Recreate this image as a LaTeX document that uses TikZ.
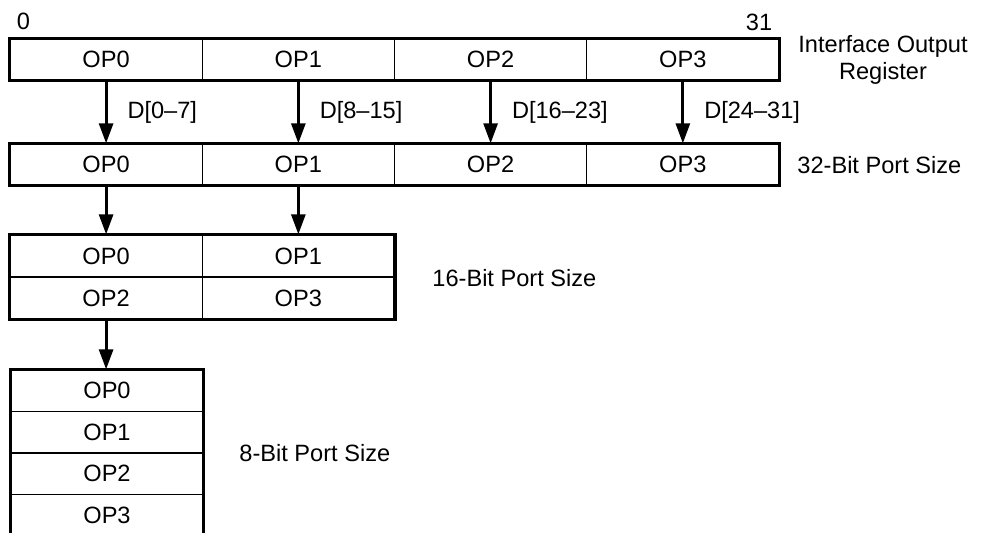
\documentclass[tikz,border=0pt]{standalone}
\usepackage{fontspec}
\setmainfont{Liberation Sans}
\usetikzlibrary{arrows.meta,positioning,fit}
\newcommand{\regfont}{\fontsize{11.8}{13.6}\selectfont}
\tikzset{
  reg/cell/.style={
    draw,
    line width=0.65pt,
    minimum width=96.1pt,
    minimum height=20.5pt,
    inner sep=0pt,
    font=\regfont
  },
  reg/frame/.style={draw, line width=1.7pt, inner sep=0pt},
  reg/arrow/.style={-{Triangle[length=10pt,width=7pt]}, line width=1.4pt},
  reg/label/.style={font=\regfont, align=center, inner sep=0pt}
}

\begin{document}
\begin{tikzpicture}[x=0.5pt,y=-0.5pt]
  \useasboundingbox (0,0) rectangle (984,533);
  % interface output register
  \foreach \i in {0,...,3}
    \node[reg/cell] (ir\i) at ({106.1+192.25*\i},59.5) {OP\i};
  \node[reg/frame, fit=(ir0)(ir3)] (irframe) {};
  % 32-bit port
  \foreach \i in {0,...,3}
    \node[reg/cell] (pw\i) at ({106.1+192.25*\i},164.5) {OP\i};
  \node[reg/frame, fit=(pw0)(pw3)] (pwframe) {};
  % 16-bit port
  \foreach \i/\r/\c in {0/0/0,1/0/1,2/1/0,3/1/1}
    \node[reg/cell, minimum height=21pt] (ph\i) at ({106.1+192.25*\c},{256+42*\r}) {OP\i};
  \node[reg/frame, fit=(ph0)(ph3)] (phframe) {};
  % 8-bit port
  \foreach \i in {0,...,3}
    \node[reg/cell, minimum width=96pt, minimum height=20.75pt] (pb\i) at (107,{390.75+41.5*\i}) {OP\i};
  \node[reg/frame, fit=(pb0)(pb3)] (pbframe) {};

  \node[reg/label] (bitlo) at (23.5,21.5) {0};
  \node[reg/label] (bithi) at (759,22) {31};
  \node[reg/label] (irname) at (883,60) {Interface Output\\Register};
  \node[reg/label, anchor=west] (pwname) at (797,165) {32-Bit Port Size};
  \node[reg/label, anchor=west] (phname) at (432,278) {16-Bit Port Size};
  \node[reg/label, anchor=west] (pbname) at (239,453) {8-Bit Port Size};

  \foreach \i/\lbl in {0/{D[0--7]},1/{D[8--15]},2/{D[16--23]},3/{D[24--31]}}
    \draw[reg/arrow] (ir\i.south) -- (pw\i.north)
      node[midway, right=10pt, reg/label] {\lbl};
  \draw[reg/arrow] (pw0.south) -- (ph0.north);
  \draw[reg/arrow] (pw1.south) -- (ph1.north);
  \draw[reg/arrow] (ph2.south) -- (ph2.south |- pb0.north);
\end{tikzpicture}
\end{document}
